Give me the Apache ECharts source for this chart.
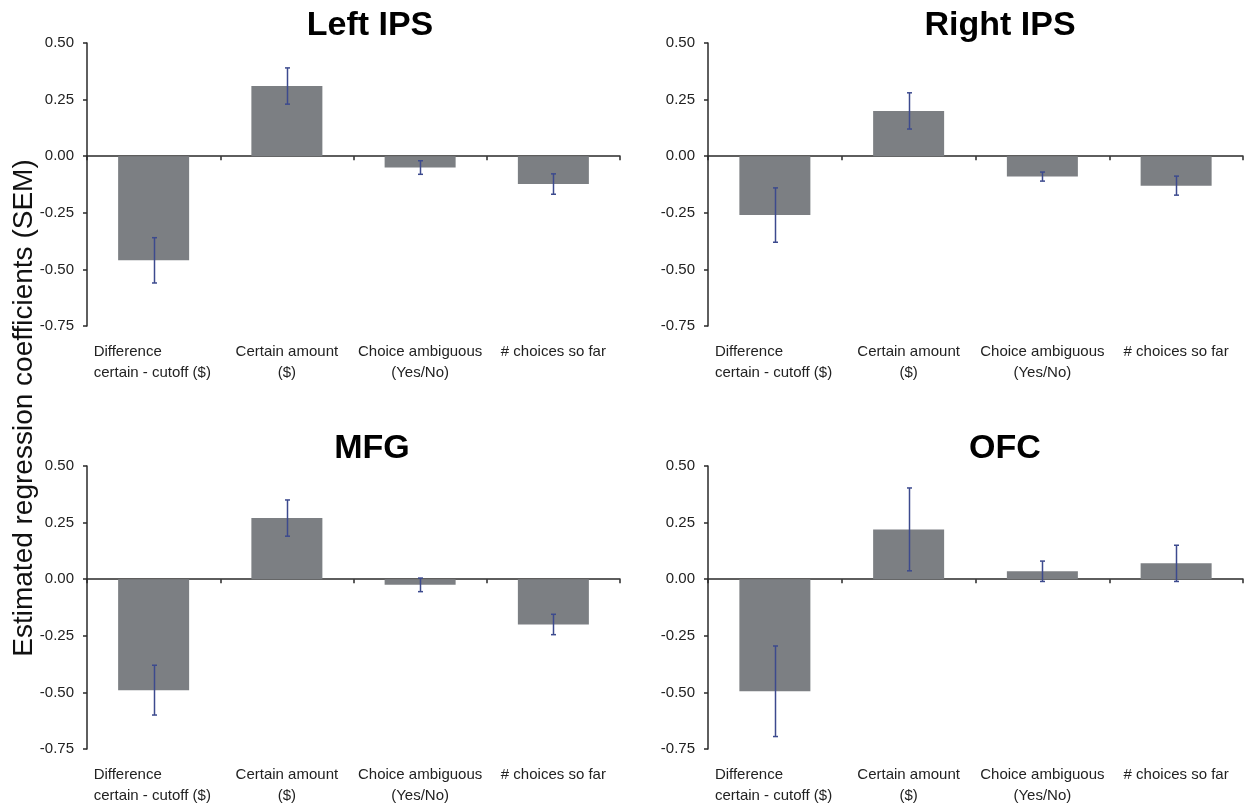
<!DOCTYPE html>
<html>
<head>
<meta charset="utf-8">
<script src="https://cdn.jsdelivr.net/npm/echarts@6/dist/echarts.min.js"></script>
<style>
html,body{margin:0;padding:0;background:#fff;}
#c{width:1246px;height:806px;}
</style>
</head>
<body>
<div id="c"></div>
<script>
// ---- data ----
const categories = ['Difference\ncertain - cutoff ($)', 'Certain amount\n($)', 'Choice ambiguous\n(Yes/No)', '# choices so far'];
const panelTitles = ['Left IPS', 'Right IPS', 'MFG', 'OFC'];
const leftIPS = [-0.46, 0.31, -0.05, -0.123];
const leftIPSErr = [0.10, 0.08, 0.03, 0.045];
const rightIPS = [-0.26, 0.20, -0.09, -0.13];
const rightIPSErr = [0.12, 0.08, 0.02, 0.042];
const mfg = [-0.49, 0.27, -0.025, -0.20];
const mfgErr = [0.11, 0.08, 0.03, 0.045];
const ofc = [-0.495, 0.22, 0.035, 0.07];
const ofcErr = [0.20, 0.183, 0.045, 0.08];
const yMin = -0.75, yMax = 0.5, yStep = 0.25;
const yAxisTitle = 'Estimated regression coefficients (SEM)';

const values = [leftIPS, rightIPS, mfg, ofc];
const errors = [leftIPSErr, rightIPSErr, mfgErr, ofcErr];

// ---- layout ----
const FONT = '"Liberation Sans", Arial, sans-serif';
const grids = [
  {left: 87, top: 43, width: 533, height: 283},
  {left: 708, top: 43, width: 535, height: 283},
  {left: 87, top: 466, width: 533, height: 283},
  {left: 708, top: 466, width: 535, height: 283}
];
const titlePos = [
  {x: 365, y: 4}, {x: 995, y: 4}, {x: 367, y: 427}, {x: 1000, y: 427}
];

const xAxes = [], yAxes = [], series = [], titles = [];
grids.forEach((g, i) => {
  // zero line axis
  xAxes.push({
    type: 'category', gridIndex: i, data: categories,
    axisLine: {onZero: true, lineStyle: {color: '#2a2a2a', width: 1.5}},
    axisTick: {show: true, length: 4, lineStyle: {color: '#2a2a2a', width: 1.5}},
    axisLabel: {show: false}
  });
  // label axis at the bottom
  xAxes.push({
    type: 'category', gridIndex: i, data: categories, position: 'bottom',
    axisLine: {show: false, onZero: false}, axisTick: {show: false},
    axisLabel: {
      show: true, interval: 0, margin: 15, color: '#222', fontSize: 15, fontFamily: FONT, lineHeight: 21,
      formatter: function (v, idx) {
        if (idx === 0) {
          const parts = v.split('\n');
          return '{l|' + parts[0] + '}\n{l|' + parts[1] + '}';
        }
        return v;
      },
      rich: {l: {width: 120, align: 'left', fontSize: 15, fontFamily: FONT, color: '#222', lineHeight: 21}}
    }
  });
  yAxes.push({
    type: 'value', gridIndex: i, min: yMin, max: yMax, interval: yStep,
    axisLine: {show: true, lineStyle: {color: '#2a2a2a', width: 1.5}},
    axisTick: {show: true, length: 4, lineStyle: {color: '#2a2a2a', width: 1.5}},
    splitLine: {show: false},
    axisLabel: {color: '#222', fontSize: 15, fontFamily: FONT, margin: 13, formatter: v => v.toFixed(2)}
  });
  series.push({
    type: 'bar', xAxisIndex: i * 2, yAxisIndex: i, data: values[i],
    barWidth: 71, itemStyle: {color: '#7c7f83'}, silent: true
  });
  series.push({
    type: 'custom', xAxisIndex: i * 2, yAxisIndex: i, silent: true, z: 5,
    data: values[i].map((v, k) => [k, v - errors[i][k], v + errors[i][k]]),
    renderItem: function (params, api) {
      const lo = api.coord([api.value(0), api.value(1)]);
      const hi = api.coord([api.value(0), api.value(2)]);
      const x = Math.round(lo[0]) + 0.5;
      const cw = 2.5;
      const st = {stroke: '#3c4a8e', lineWidth: 1.5};
      return {
        type: 'group',
        children: [
          {type: 'line', shape: {x1: x, y1: hi[1], x2: x, y2: lo[1]}, style: st},
          {type: 'line', shape: {x1: x - cw, y1: hi[1], x2: x + cw, y2: hi[1]}, style: st},
          {type: 'line', shape: {x1: x - cw, y1: lo[1], x2: x + cw, y2: lo[1]}, style: st}
        ]
      };
    }
  });
  titles.push({
    text: panelTitles[i], left: titlePos[i].x, top: titlePos[i].y, textAlign: 'center',
    textStyle: {fontSize: 34, fontWeight: 'bold', color: '#000', fontFamily: FONT}
  });
});

const chart = echarts.init(document.getElementById('c'), null, {renderer: 'canvas'});
chart.setOption({
  backgroundColor: '#fff',
  animation: false,
  title: titles,
  grid: grids,
  xAxis: xAxes,
  yAxis: yAxes,
  series: series,
  graphic: [{
    type: 'text', x: 24, y: 408, rotation: Math.PI / 2,
    style: {text: yAxisTitle, x: 0, y: 0, align: 'center', verticalAlign: 'middle', textAlign: 'center', textVerticalAlign: 'middle',
      font: '28px ' + FONT, fill: '#111'}
  }]
});
</script>
</body>
</html>
